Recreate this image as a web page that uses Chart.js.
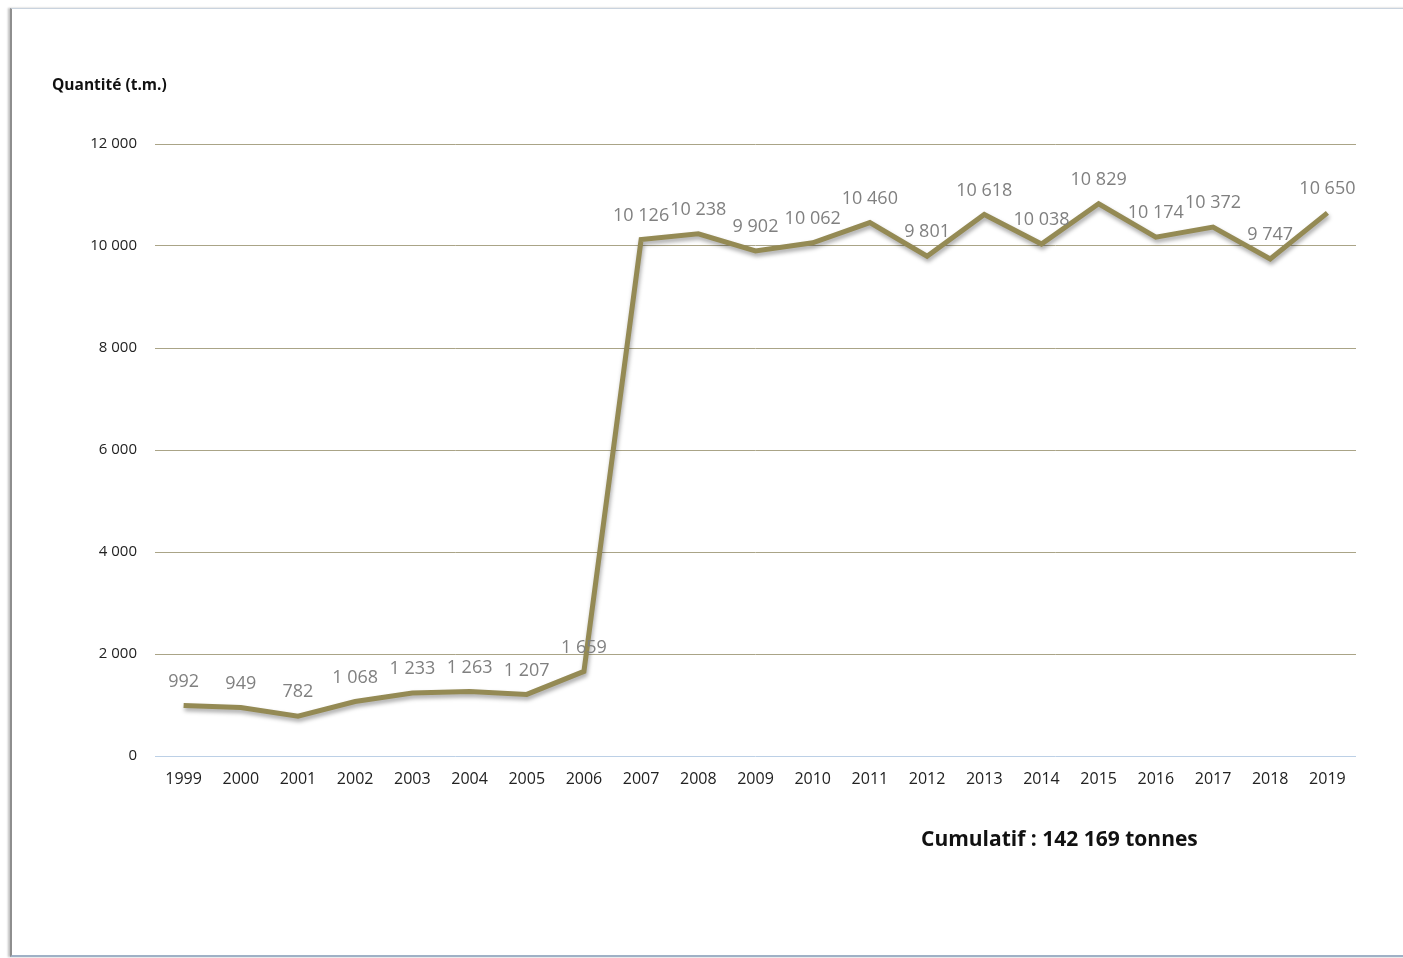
<!DOCTYPE html>
<html>
<head>
<meta charset="utf-8">
<script src="https://cdn.jsdelivr.net/npm/chart.js@4.4.1/dist/chart.umd.min.js"></script>
<style>
  html, body { margin: 0; padding: 0; background: #ffffff; }
  body { width: 1403px; height: 958px; position: relative; overflow: hidden; font-family: "Open Sans", sans-serif; }
  #frame {
    position: absolute; left: 10px; top: 8px; width: 1400px; height: 946px;
    border-left: 2px solid #8e8e8e; border-top: 1px solid #c9d3de; border-bottom: 2px solid #9fb1c6;
    box-shadow: -2px 0 2px rgba(0,0,0,0.25);
  }
  #wrap { position: absolute; left: 0; top: 0; width: 1403px; height: 958px; }
  #yTitle { position: absolute; left: 52px; top: 73px; font-size: 15.5px; font-weight: bold; color: #111; }
  #cumul { position: absolute; left: 921px; top: 824px; font-size: 21px; font-weight: bold; color: #111; }
</style>
</head>
<body>
<div id="frame"></div>
<div id="wrap"><canvas id="graph" width="1403" height="958"></canvas></div>
<div id="yTitle">Quantité (t.m.)</div>
<div id="cumul">Cumulatif : 142 169 tonnes</div>
<script>
const annees = ["1999","2000","2001","2002","2003","2004","2005","2006","2007","2008","2009",
                "2010","2011","2012","2013","2014","2015","2016","2017","2018","2019"];
const quantites = [992, 949, 782, 1068, 1233, 1263, 1207, 1659, 10126, 10238, 9902,
                   10062, 10460, 9801, 10618, 10038, 10829, 10174, 10372, 9747, 10650];

function espace(v) {
    return String(v).replace(/\B(?=(\d{3})+(?!\d))/g, " ");
}

// ombre sous la courbe
const ombre = {
    id: "ombre",
    beforeDatasetDraw(chart) {
        const c = chart.ctx;
        c.save();
        c.shadowColor = "rgba(0,0,0,0.35)";
        c.shadowBlur = 4;
        c.shadowOffsetX = 1;
        c.shadowOffsetY = 3;
    },
    afterDatasetDraw(chart) {
        chart.ctx.restore();
    }
};

// étiquettes de valeurs au-dessus des points
const etiquettes = {
    id: "etiquettes",
    afterDatasetsDraw(chart) {
        const c = chart.ctx;
        const meta = chart.getDatasetMeta(0);
        c.save();
        c.font = "18px 'Open Sans', sans-serif";
        c.fillStyle = "#808080";
        c.textAlign = "center";
        c.textBaseline = "middle";
        meta.data.forEach(function (pt, i) {
            c.fillText(espace(quantites[i]), pt.x, pt.y - 24);
        });
        c.restore();
    }
};

new Chart(document.getElementById("graph"), {
    type: "line",
    data: {
        labels: annees,
        datasets: [{
            data: quantites,
            borderColor: "#948a54",
            borderWidth: 5,
            pointRadius: 0,
            tension: 0,
            fill: false
        }]
    },
    options: {
        responsive: false,
        animation: false,
        layout: { padding: { left: 0, right: 47, top: 144, bottom: 0 } },
        plugins: {
            legend: { display: false },
            tooltip: { enabled: false }
        },
        scales: {
            x: {
                offset: true,
                grid: { display: false },
                border: { display: false },
                ticks: {
                    color: "#222222",
                    font: { family: "'Open Sans', sans-serif", size: 16 },
                    padding: 6,
                    maxRotation: 0
                },
                afterFit(scale) { scale.height = 202; }
            },
            y: {
                min: 0,
                max: 12000,
                grid: {
                    color: (ctx) => ctx.tick && ctx.tick.value === 0 ? "#bcd0e6" : "#aaa487",
                    lineWidth: 1,
                    drawTicks: false
                },
                border: { display: false },
                ticks: {
                    stepSize: 2000,
                    color: "#222222",
                    font: { family: "'Open Sans', sans-serif", size: 15 },
                    padding: 18,
                    callback: (v) => espace(v)
                },
                afterFit(scale) { scale.width = 155; }
            }
        }
    },
    plugins: [ombre, etiquettes]
});
</script>
</body>
</html>
